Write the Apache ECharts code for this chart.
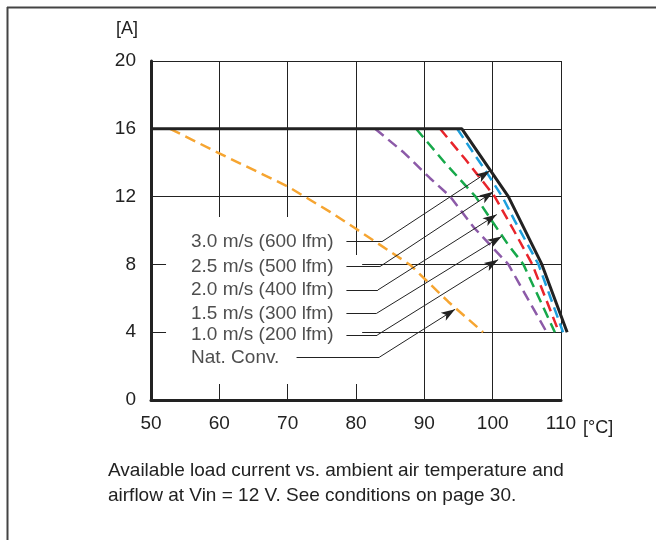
<!DOCTYPE html>
<html>
<head>
<meta charset="utf-8">
<script src="https://cdn.jsdelivr.net/npm/echarts@6/dist/echarts.min.js"></script>
<style>
  html, body { margin: 0; padding: 0; background: #fff; }
  #chart { width: 656px; height: 540px; }
</style>
</head>
<body>
<div id="chart"></div>
<script>
// derating curves, [temperature °C, current A]
const airflow3_0 = [[50, 16], [95.5, 16], [102.3, 12], [107.2, 8], [110.9, 4]];
const airflow2_5 = [[94.8, 16], [99, 13.5], [101.4, 12], [103.2, 10.6], [106.7, 8], [110.3, 4]];
const airflow2_0 = [[92.3, 16], [96, 14.2], [100.3, 12], [103.1, 10], [105.8, 8], [109.7, 4]];
const airflow1_5 = [[88.8, 16], [93, 14], [97.5, 12], [100, 10.5], [102.2, 9.2], [104.5, 8], [109.1, 4]];
const airflow1_0 = [[82.8, 16], [87, 14.6], [90.8, 13.1], [93.8, 12], [97.2, 10.2], [102.3, 8], [107.9, 4]];
const natConv = [[52.8, 16], [60, 14.55], [70, 12.6], [76.2, 11.1], [80, 10.1], [88, 7.95], [93.5, 5.8], [98.6, 4]];

const xTicks = [50, 60, 70, 80, 90, 100, 110];
const yTicks = [0, 4, 8, 12, 16, 20];

// callout labels and leader lines (data coords)
const labelTexts = ['3.0 m/s (600 lfm)', '2.5 m/s (500 lfm)', '2.0 m/s (400 lfm)',
  '1.5 m/s (300 lfm)', '1.0 m/s (200 lfm)', 'Nat. Conv.'];
const labelX = 55.85;
const labelRows = [9.34, 7.87, 6.49, 5.11, 3.83, 2.52];
const leaderStartX = [78.6, 78.6, 78.6, 78.6, 78.6, 71.3];
const leaderBendX = [83.8, 83.5, 83.2, 83.0, 83.1, 83.4];
const arrowTips = [[99.6, 13.53], [100.1, 12.29], [100.6, 10.94], [101.3, 9.65], [100.8, 8.28], [94.5, 5.35]];

const FONT = '"Liberation Sans", Arial, Helvetica, sans-serif';
const INK = '#222';

// grid 0 carries the visible axes (50..110), grid 1 the same scale but a bit
// wider (50..112) so the curve ends past 110 °C are not clipped
const PLOT_LEFT = 151, PLOT_W = 410;
const X2_MAX = 112;
const plotW2 = PLOT_W * (X2_MAX - 50) / 60;

const chart = echarts.init(document.getElementById('chart'));

function dashed(name, data, color) {
  return {
    name, type: 'line', data, symbol: 'none', silent: true,
    xAxisIndex: 1, yAxisIndex: 1,
    lineStyle: { color, width: 2.5, type: [11, 6] }, z: 3
  };
}

const horizontalLeaders = labelRows.map((y, i) => [
  { coord: [leaderStartX[i], y] }, { coord: [leaderBendX[i], y] }
]);
const diagonalLeaders = labelRows.map((y, i) => [
  { coord: [leaderBendX[i], y] }, { coord: arrowTips[i] }
]);

chart.setOption({
  animation: false,
  backgroundColor: '#fff',
  grid: [
    { left: PLOT_LEFT, right: 656 - PLOT_LEFT - PLOT_W, top: 61, bottom: 140 },
    { left: PLOT_LEFT, right: 656 - PLOT_LEFT - plotW2, top: 61, bottom: 140 }
  ],
  xAxis: [{
    type: 'value', min: 50, max: 110, interval: 10, gridIndex: 0,
    axisLine: { show: true, onZero: false, lineStyle: { color: INK, width: 3 } },
    axisTick: { show: false },
    splitLine: { show: true, lineStyle: { color: INK, width: 1 } },
    axisLabel: {
      color: INK, fontFamily: FONT, fontSize: 19, margin: 14,
      formatter: v => xTicks.includes(v) ? String(v) : ''
    }
  }, {
    type: 'value', min: 50, max: X2_MAX, gridIndex: 1, show: false
  }],
  yAxis: [{
    type: 'value', min: 0, max: 20, interval: 4, gridIndex: 0,
    axisLine: { show: true, onZero: false, lineStyle: { color: INK, width: 3 } },
    axisTick: { show: false },
    splitLine: { show: true, lineStyle: { color: INK, width: 1 } },
    axisLabel: {
      color: INK, fontFamily: FONT, fontSize: 19, margin: 15,
      formatter: v => yTicks.includes(v) ? String(v) : ''
    }
  }, {
    type: 'value', min: 0, max: 20, gridIndex: 1, show: false
  }],
  series: [
    {
      // white patch behind the callout texts
      type: 'line', data: [], silent: true, z: 2,
      markArea: {
        silent: true,
        itemStyle: { color: '#fff' },
        label: { show: false },
        data: [
          [{ coord: [52.2, 0.95] }, { coord: [80.9, 8.55] }],
          [{ coord: [52.2, 8.55] }, { coord: [79.5, 10.8] }]
        ]
      }
    },
    dashed('Nat. Conv.', natConv, '#f6a531'),
    dashed('1.0 m/s', airflow1_0, '#8c5aa8'),
    dashed('1.5 m/s', airflow1_5, '#17a84a'),
    dashed('2.0 m/s', airflow2_0, '#e8242b'),
    dashed('2.5 m/s', airflow2_5, '#1c9fdd'),
    {
      name: '3.0 m/s', type: 'line', data: airflow3_0, symbol: 'none', silent: true,
      xAxisIndex: 1, yAxisIndex: 1,
      lineStyle: { color: INK, width: 3 }, z: 4
    },
    {
      type: 'line', data: [], silent: true, z: 5,
      markLine: {
        silent: true, symbol: ['none', 'none'], animation: false,
        label: { show: false },
        lineStyle: { color: INK, width: 1, type: 'solid' },
        data: horizontalLeaders
      }
    },
    {
      type: 'line', data: [], silent: true, z: 5,
      markLine: {
        silent: true, symbol: ['none', 'arrow'], symbolSize: [7, 14], animation: false,
        label: { show: false },
        lineStyle: { color: INK, width: 1, type: 'solid' },
        itemStyle: { color: INK },
        data: diagonalLeaders
      }
    },
    {
      type: 'scatter', silent: true, z: 5, symbolSize: 0,
      data: labelRows.map((y, i) => [labelX, y, labelTexts[i]]),
      label: {
        show: true, position: 'right', distance: 0,
        color: INK, fontFamily: FONT, fontSize: 19,
        formatter: p => p.value[2]
      }
    }
  ],
  graphic: [
    { type: 'line', silent: true, shape: { x1: 7, y1: 7.5, x2: 656, y2: 7.5 }, style: { stroke: '#444', lineWidth: 2 } },
    { type: 'line', silent: true, shape: { x1: 7.5, y1: 7, x2: 7.5, y2: 540 }, style: { stroke: '#444', lineWidth: 2 } },
    { type: 'text', left: 116, top: 20, style: { text: '[A]', fill: INK, font: '18px ' + FONT } },
    { type: 'text', left: 583, top: 419, style: { text: '[°C]', fill: INK, font: '18px ' + FONT } },
    {
      type: 'text', left: 108, top: 458,
      style: {
        text: 'Available load current vs. ambient air temperature and\nairflow at Vin = 12 V. See conditions on page 30.',
        fill: INK, font: '19px ' + FONT, lineHeight: 25
      }
    }
  ]
});
</script>
</body>
</html>
